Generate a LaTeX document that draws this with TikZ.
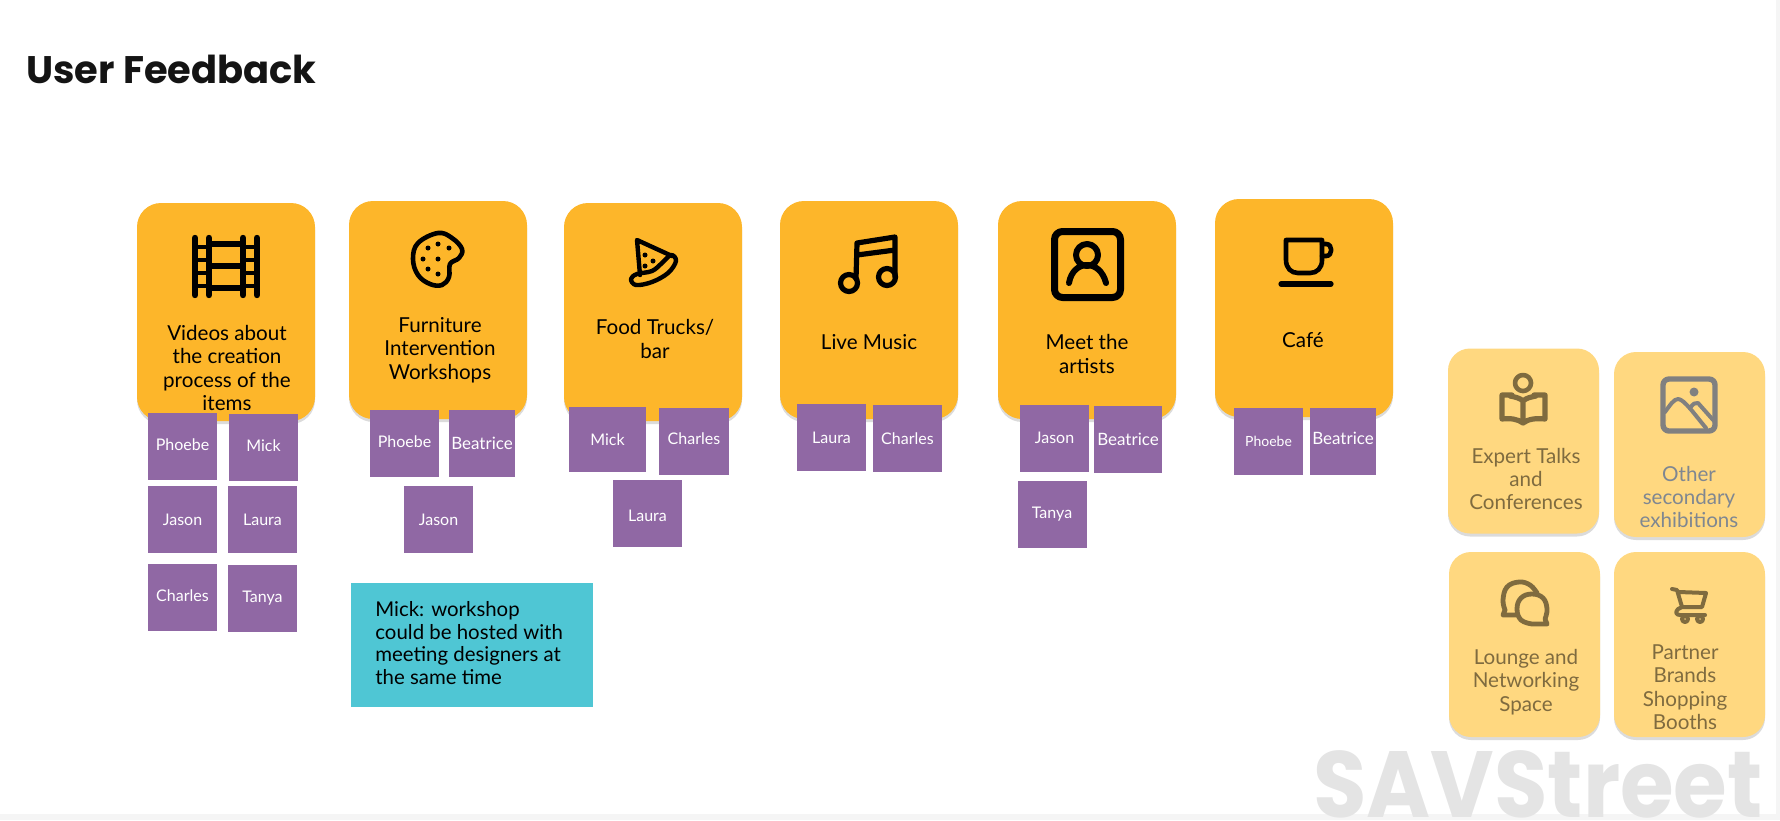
\documentclass[tikz,border=0pt]{standalone}
\usepackage{fontspec}
\setmainfont{Lato}
\newfontfamily\markfont{Poppins}
\usetikzlibrary{shadows}
\definecolor{mainorange}{RGB}{253,182,42}
\definecolor{sidegold}{RGB}{255,216,128}
\definecolor{sidebrown}{RGB}{127,107,63}
\definecolor{sidegrey}{RGB}{128,128,128}
\definecolor{sideblue}{RGB}{127,135,145}
\definecolor{personpurple}{RGB}{144,104,164}
\definecolor{noteteal}{RGB}{79,198,212}
\definecolor{markgrey}{RGB}{228,228,228}
\definecolor{bandgrey}{RGB}{245,245,245}
\tikzset{
  softshadow/.style={drop shadow={shadow xshift=0pt,shadow yshift=-1.5pt,fill=black,opacity=.14}},
  maincard/.style={fill=mainorange, rounded corners=12pt, minimum width=89pt, minimum height=109pt, softshadow},
  sidecard/.style={fill=sidegold, rounded corners=11pt, minimum width=75.5pt, minimum height=92.5pt, softshadow},
  cardtext/.style={align=center, font=\fontsize{10.3}{11.7}\selectfont},
  sidetext/.style={cardtext, text=sidebrown},
  person/.style={fill=personpurple, text=white, minimum width=34.5pt, minimum height=33.5pt, inner sep=0pt, font=\fontsize{8}{9}\selectfont},
  bigname/.style={font=\fontsize{8.5}{10}\selectfont},
  lifted/.style={text depth=2.4pt},
  lowered/.style={text height=8pt},
  icon/.style={line width=2pt, line cap=round, line join=round},
}
\begin{document}
\begin{tikzpicture}[x=0.5pt, y=-0.5pt]
    \useasboundingbox (0,0) rectangle (1780,820);
    \fill[bandgrey] (0,814) rectangle (1780,820);
    \fill[bandgrey] (1776,0) rectangle (1780,820);
    \node[anchor=base west, inner sep=0pt, font=\markfont\fontsize{19.2}{24}\bfseries\selectfont, text=black!92] (title) at (26,83) {User Feedback};

    % Main cards
    \node[maincard] (videos) at (226,312) {};
    \node[maincard] (furniture) at (438,310) {};
    \node[maincard] (food) at (653,312) {};
    \node[maincard] (music) at (869,310) {};
    \node[maincard] (artists) at (1087,310) {};
    \node[maincard] (cafe) at (1304,308) {};
    \node[cardtext] (videostext) at (227,368) {Videos about\\the creation\\process of the\\items};
    \node[cardtext] (furnituretext) at (440,350) {Furniture\\Intervention\\Workshops};
    \node[cardtext] (foodtext) at (655,339) {Food Trucks/\\bar};
    \node[cardtext] (musictext) at (869,342) {Live Music};
    \node[cardtext] (artiststext) at (1087,354) {Meet the\\artists};
    \node[cardtext] (cafetext) at (1303,340) {Café};

    % Side cards
    \node[sidecard] (talks) at (1523.5,441) {};
    \node[sidecard] (other) at (1689.5,444.5) {};
    \node[sidecard] (lounge) at (1524.5,644.5) {};
    \node[sidecard] (booths) at (1689.5,644.5) {};
    \node[sidetext] (talkstext) at (1526,479) {Expert Talks\\and\\Conferences};
    \node[sidetext, text=sideblue] (othertext) at (1689,497) {Other\\secondary\\exhibitions};
    \node[sidetext] (loungetext) at (1526,682) {Lounge and\\Networking\\Space};
    \node[sidetext] (boothstext) at (1685,687) {Partner\\Brands\\Shopping\\Booths};

    % People under the videos card
    \node[person, lifted] (v1) at (182.5,446.5) {Phoebe};
    \node[person, lifted] (v2) at (263.5,447.5) {Mick};
    \node[person] (v3) at (182.5,519.5) {Jason};
    \node[person] (v4) at (262.5,519.5) {Laura};
    \node[person, lifted] (v5) at (182.5,597.5) {Charles};
    \node[person] (v6) at (262.5,598.5) {Tanya};
    % People under the furniture card
    \node[person, lifted] (f1) at (404.5,443.5) {Phoebe};
    \node[person, bigname, minimum width=33pt] (f2) at (482,443.5) {Beatrice};
    \node[person] (f3) at (438.5,519.5) {Jason};
    % People under the food card
    \node[person, minimum width=38.5pt, minimum height=32.5pt] (d1) at (607.5,439.5) {Mick};
    \node[person, lifted, minimum width=35pt] (d2) at (694,441) {Charles};
    \node[person, lowered] (d3) at (647.5,513.5) {Laura};
    % People under the music card
    \node[person] (m1) at (831.5,437.5) {Laura};
    \node[person] (m2) at (907.5,438.5) {Charles};
    % People under the artists card
    \node[person] (a1) at (1054.5,438) {Jason};
    \node[person, bigname, minimum width=34pt] (a2) at (1128,439) {Beatrice};
    \node[person] (a3) at (1052,514) {Tanya};
    % People under the cafe card
    \node[person, font=\fontsize{7}{8}\selectfont] (c1) at (1268.5,441) {Phoebe};
    \node[person, bigname, lifted, minimum width=33pt] (c2) at (1343,441) {Beatrice};

    % Note
    \node[fill=noteteal, minimum width=121pt, minimum height=62pt] (note) at (472,645) {};
    \node[anchor=west, align=left, inner sep=0pt, font=\fontsize{10.2}{11.3}\selectfont] (notetext) at (375,643) {Mick: workshop\\could be hosted with\\meeting designers at\\the same time};

    % Film icon
    \draw[icon, line width=3.2pt] (195,238) -- (195,295) (209,238) -- (209,295) (243,238) -- (243,295) (257,238) -- (257,295);
    \draw[icon, line cap=butt, line width=3pt] (209,244) -- (243,244) (209,266) -- (243,266) (209,288) -- (243,288);
    \draw[icon, line cap=butt, line width=2pt] (195,247) -- (209,247) (195,260) -- (209,260) (195,273) -- (209,273) (195,286) -- (209,286)
        (243,247) -- (257,247) (243,260) -- (257,260) (243,273) -- (257,273) (243,286) -- (257,286);
    % Palette icon
    \draw[icon, line width=2.3pt] plot[smooth cycle, tension=.65] coordinates {(438,233) (452,238) (462,249) (459,258) (450,264) (449,277) (442,285) (430,284) (418,275) (413,259) (418,243)};
    \foreach \dotx/\doty in {428/248, 438/244, 449/248, 423/259, 438/259, 428/269, 438/274}
        \fill (\dotx,\doty) circle[radius=2.5];
    % Pizza icon
    \draw[icon, line width=2.2pt] (640,275) -- (637,240) -- (672,256);
    \draw[icon, line width=2.2pt] plot[smooth cycle, tension=.6] coordinates {(671,255) (676,261) (668,273) (652,282) (636,285) (631,279) (637,274) (652,271) (662,263)};
    \foreach \dotx/\doty in {645/255, 653/261, 645/266}
        \fill (\dotx,\doty) circle[radius=2.5];
    % Music icon
    \draw[icon, line width=2.6pt] (849,283) circle[radius=8.5] (887,277) circle[radius=8.5];
    \draw[icon, line width=2.6pt] (856,279) -- (857,243) -- (895,237) -- (895,277) (857,255) -- (895,250);
    % Portrait icon
    \draw[icon, line width=3.5pt, rounded corners=4pt] (1054.5,231.5) rectangle (1120.5,297.5);
    \draw[icon, line width=3pt] (1087,255) circle[radius=11];
    \draw[icon, line width=3pt] (1069,283) .. controls (1071,271) and (1079,265) .. (1087,265) .. controls (1095,265) and (1103,271) .. (1106,283);
    % Cup icon
    \draw[icon, line width=2.3pt] (1286,240) -- (1322,240) -- (1322,260) .. controls (1322,268) and (1317,273) .. (1310,273) -- (1298,273) .. controls (1291,273) and (1286,268) .. (1286,260) -- cycle;
    \draw[icon, line width=2.3pt] (1322,244) -- (1326,244) .. controls (1333,244) and (1333,256) .. (1326,256) -- (1322,256);
    \draw[icon, line width=2.6pt] (1281,284) -- (1331,284);

    % Book icon
    \begin{scope}[draw=sidebrown, fill=sidebrown]
    \draw[icon, line width=2.3pt] (1523,383) circle[radius=8];
    \draw[icon, line width=2.6pt] (1512,395) -- (1502,395) -- (1502,419) .. controls (1510,418) and (1518,419) .. (1523,423) .. controls (1528,419) and (1536,418) .. (1545,419) -- (1545,395) -- (1534,395)
        (1510,396) .. controls (1515,397) and (1520,398) .. (1523,401) .. controls (1526,398) and (1531,397) .. (1536,396)
        (1523,401) -- (1523,423);
    \end{scope}
    % Picture icon
    \begin{scope}[draw=sidegrey, fill=sidegrey]
    \draw[icon, line width=2.7pt, rounded corners=3pt] (1663,379) rectangle (1715,431);
    \fill (1694,392) circle[radius=4.5];
    \draw[icon] (1665,412) .. controls (1670,405) and (1674,399) .. (1678,399) .. controls (1684,399) and (1695,415) .. (1706,428);
    \draw[icon] (1690,408) .. controls (1693,404) and (1695,402) .. (1698,403) -- (1714,421);
    \end{scope}
    % Chat icon
    \begin{scope}[draw=sidebrown]
    \draw[icon, line width=2.4pt] plot[smooth, tension=.7] coordinates {(1537,593) (1530,585) (1519,582) (1507,587) (1503,600) (1505,610)} -- (1503,615) -- (1516,615);
    \draw[icon, line width=2.4pt] plot[smooth, tension=.7] coordinates {(1532,624) (1521,620) (1517,609) (1521,598) (1532,594) (1543,598) (1547,609) (1545,619)} -- (1547,624) -- (1532,624);
    \end{scope}
    % Cart icon
    \begin{scope}[draw=sidebrown]
    \draw[icon, line width=2pt] (1672,589) -- (1677,590) -- (1682,607) (1679,592) -- (1706,593) -- (1702,607) -- (1682,607)
        (1682,607) -- (1678,609) .. controls (1675,612) and (1676,615) .. (1680,615) -- (1705,615);
    \draw[icon, line width=2pt] (1685,619) circle[radius=3] (1700,619) circle[radius=3];
    \end{scope}

    % Watermark
    \node[anchor=base west, inner sep=0pt, xscale=.925, transform shape, font=\markfont\fontsize{47}{50}\bfseries\selectfont, text=markgrey] (mark) at (1313,817) {SAVStreet};
\end{tikzpicture}
\end{document}
